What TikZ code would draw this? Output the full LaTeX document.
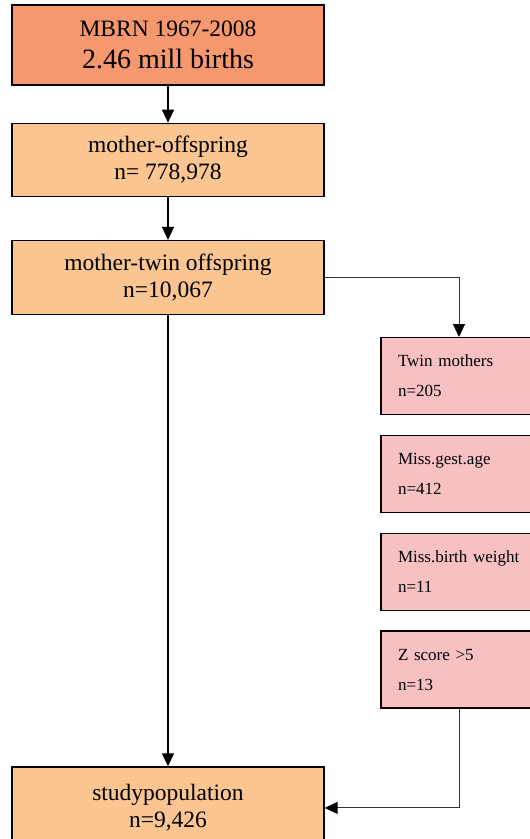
\documentclass[tikz,border=0pt]{standalone}
\usepackage{fontspec}
\setmainfont{Liberation Serif}
\usetikzlibrary{positioning}
\usetikzlibrary{arrows.meta}
\definecolor{boxSalmon}{RGB}{245,152,110}
\definecolor{boxPeach}{RGB}{250,197,145}
\definecolor{boxPink}{RGB}{247,193,193}
\tikzset{every picture/.style={line width=1.3pt, >={Triangle[length=13pt,width=12pt]}}}
\tikzset{mainbox/.style={draw=black, line width=1.3pt, fill=boxPeach, minimum width=312pt, minimum height=74pt, inner sep=0pt, align=center, font=\fontsize{23.5}{27}\selectfont}}
\tikzset{exclbox/.style={draw=black, line width=1.3pt, fill=boxPink, minimum width=156pt, minimum height=77pt, text width=122pt, inner xsep=17pt, inner ysep=0pt, align=left, font=\fontsize{17}{30}\selectfont}}
\tikzset{sideline/.style={draw=black!80, line width=0.9pt, -{Triangle[length=13pt,width=12pt,black]}}}

\begin{document}
\begin{tikzpicture}[x=1pt, y=-1pt]
        \useasboundingbox (0,0) rectangle (530,839);
        \clip (0,0) rectangle (530,839);
        % main flow
        \node[mainbox, fill=boxSalmon, minimum height=80pt] (mbrn) at (168,45) {MBRN 1967-2008\\[5pt]{\fontsize{28}{32}\selectfont 2.46 mill births}};
        \node[mainbox, minimum height=73pt, below=37pt of mbrn] (offspring) {mother-offspring\\n= 778,978};
        \node[mainbox, below=43pt of offspring] (twinoff) {mother-twin offspring\\n=10,067};
        % exclusions
        \node[exclbox, anchor=north] (twinmoth) at (459,337) {Twin mothers\\n=205};
        \node[exclbox, below=19.5pt of twinmoth] (gestage) {Miss.gest.age\\n=412};
        \node[exclbox, below=19.5pt of gestage] (birthwt) {Miss.birth weight\\n=11};
        \node[exclbox, below=19.5pt of birthwt] (zscore) {Z score >5\\n=13};
        \node[mainbox, minimum height=82pt, below=451pt of twinoff] (study) {studypopulation\\n=9,426};
        % connectors
        \draw[->] (mbrn) -- (offspring);
        \draw[->] (offspring) -- (twinoff);
        \draw[->] (twinoff) -- (study);
        \draw[sideline] (twinoff.east) -| (twinmoth.north);
        \draw[sideline] (zscore.south) |- (study.east);
    \end{tikzpicture}
\end{document}
